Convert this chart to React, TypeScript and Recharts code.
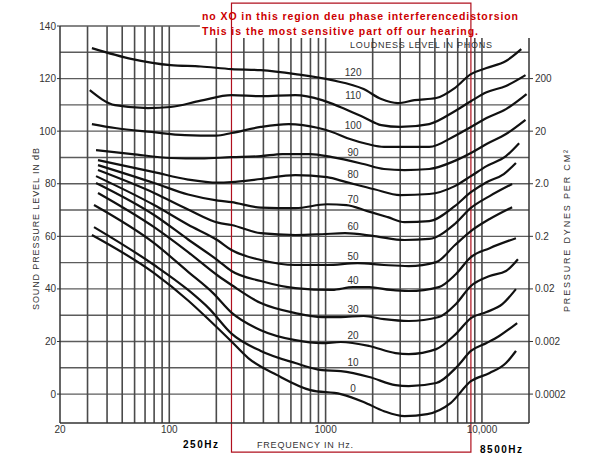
import React from 'react';
import { LineChart, Line, XAxis, YAxis, CartesianGrid, ReferenceArea, ReferenceDot, ReferenceLine } from 'recharts';

type P = [number, number];

// Equal-loudness curves: [frequency Hz, sound pressure level dB]
const phon120: P[] = [[32,131.6],[58,127.4],[102,125.1],[159,124.6],[250,123.6],[385,123.2],[640,121.7],[1100,119.4],[1750,116.0],[2270,112.2],[2900,110.7],[3700,111.8],[5100,112.6],[6700,116.4],[8500,121.7],[10700,124.0],[14250,126.7],[17850,131.2]];
const phon110: P[] = [[31,115.6],[45,109.9],[73,108.8],[102,109.2],[159,111.6],[250,113.7],[385,113.3],[640,113.7],[950,111.8],[1250,109.1],[1750,105.3],[2270,102.3],[3000,101.6],[4600,102.7],[6700,107.6],[8500,111.4],[10700,114.8],[14250,117.2],[19000,121.3]];
const phon100: P[] = [[32,102.7],[45,101.2],[77,99.7],[126,98.5],[200,98.3],[250,99.3],[385,101.6],[580,102.7],[900,101.2],[1100,99.7],[1414,97.1],[1850,95.1],[2364,94.0],[3200,94.0],[4600,94.0],[6700,98.2],[8500,101.6],[10700,105.0],[14250,108.4],[19300,114.1]];
const phon90: P[] = [[34,92.8],[58,91.3],[102,89.8],[159,89.6],[250,90.1],[385,90.5],[530,91.3],[800,91.3],[1100,90.1],[1750,87.5],[2364,85.6],[3200,85.2],[4600,85.6],[6700,88.7],[8500,91.7],[10700,95.1],[14250,98.9],[19000,104.3]];
const phon80: P[] = [[35,89.0],[80,84.4],[132,81.6],[205,80.4],[250,80.6],[385,81.8],[640,83.3],[1020,82.5],[1360,80.6],[2050,77.9],[3000,75.7],[4600,76.1],[6700,79.1],[8500,82.9],[10700,86.7],[14250,90.5],[17300,95.4]];
const phon70: P[] = [[35,87.1],[80,80.3],[132,75.9],[205,73.6],[250,73.0],[385,70.9],[640,70.7],[1020,72.2],[1360,71.9],[1850,69.6],[2500,67.3],[3200,65.4],[4600,65.8],[6700,71.5],[8500,76.8],[10700,80.6],[13800,83.7],[16500,87.9]];
const phon60: P[] = [[35,85.2],[80,76.5],[132,70.2],[205,65.2],[250,64.3],[385,61.2],[640,60.5],[950,60.8],[1330,61.2],[2050,60.1],[3200,58.6],[4600,59.0],[6700,64.7],[8500,70.8],[11200,75.3],[15600,79.9]];
const phon50: P[] = [[34,82.9],[80,71.9],[132,64.4],[205,58.4],[250,54.8],[385,51.0],[640,49.1],[1020,49.1],[1600,49.8],[2364,49.1],[3400,48.7],[5100,50.2],[6700,56.6],[8500,62.0],[11200,66.6],[15600,71.1]];
const phon40: P[] = [[34,80.3],[80,68.1],[132,58.8],[205,50.8],[250,46.8],[385,43.0],[640,40.3],[1100,39.6],[1500,40.7],[1900,40.7],[2600,39.6],[3400,39.2],[5300,40.7],[6800,45.6],[8500,52.1],[11200,55.5],[16500,59.3]];
const phon30: P[] = [[35,76.5],[80,63.5],[132,54.0],[205,45.0],[250,41.5],[385,34.6],[640,30.8],[950,29.3],[1250,29.3],[1750,29.7],[2364,28.5],[3400,27.8],[5300,29.3],[6800,34.2],[8500,41.1],[11200,44.9],[14250,46.8],[17000,51.3]];
const phon20: P[] = [[33,71.9],[80,57.4],[132,46.5],[190,38.5],[250,31.0],[385,24.3],[640,20.5],[950,19.4],[1250,19.8],[1900,18.3],[2800,15.6],[3400,15.2],[5100,17.1],[6800,22.8],[8500,28.9],[10700,31.2],[13500,34.2],[16500,39.9]];
const phon10: P[] = [[33,63.5],[80,49.1],[132,39.6],[180,32.5],[250,23.0],[385,16.4],[640,11.8],[950,9.1],[1250,8.7],[1900,6.5],[2800,3.4],[3400,3.0],[5100,4.2],[7000,10.7],[8500,16.4],[10700,19.4],[12900,22.1],[16800,27.0]];
const phon0: P[] = [[32,60.5],[80,46.0],[132,35.6],[185,27.5],[250,20.0],[320,13.7],[490,7.2],[800,1.5],[1250,0],[1750,-3.0],[2364,-6.5],[3200,-8.4],[4470,-7.6],[6300,-3.4],[8500,4.9],[11200,8.0],[14250,11.8],[16500,16.4]];

const CURVES: P[][] = [phon120, phon110, phon100, phon90, phon80, phon70, phon60, phon50, phon40, phon30, phon20, phon10, phon0];
const PHON_LEVELS = [120, 110, 100, 90, 80, 70, 60, 50, 40, 30, 20, 10, 0];
const PHON_LABEL_FREQ = 1500;
const PHON_LABEL_DB = [122.5, 113.7, 102.3, 92.0, 83.7, 74.2, 63.9, 52.5, 43.4, 32.3, 22.4, 12.2, 2.3];

const X_MIN = 20;
const X_MAX = 20000;
const Y_MIN = -11;
const Y_MAX = 140;
const X_TICKS = [20, 100, 1000, 10000];
const X_GRID = [30, 40, 50, 60, 70, 80, 90, 100, 200, 300, 400, 500, 600, 700, 800, 900, 1000, 2000, 3000, 4000, 5000, 6000, 7000, 8000, 9000, 10000];
const Y_TICKS = [0, 20, 40, 60, 80, 100, 120, 140];
const Y_GRID = [0, 10, 20, 30, 40, 50, 60, 70, 80, 90, 100, 110, 120, 130];
const PRESSURE_TICKS = [0, 20, 40, 60, 80, 100, 120];
const PRESSURE_LABELS = ['0.0002', '0.002', '0.02', '0.2', '2.0', '20', '200'];

// annotation band (Hz) and its vertical extent (dB)
const BAND_HZ = [250, 8500];
const BAND_DB = [-22.1, 148.7];
// the caption pasted at the top blanks the grid above this level, right of this frequency
const CAPTION_HZ = 157;
const CAPTION_DB = 135.4;

const toPts = (c: P[]) => c.map(([f, db]) => ({ f, db }));

const INK = '#333';
const GRID = '#4a4a4a';
const FONT = '"Liberation Sans", Arial, sans-serif';

export default function App() {
  return (
    <div style={{ position: 'relative', width: 600, height: 459, background: '#fff', fontFamily: FONT }}>
      <style>{'body{margin:0}'}</style>
      <LineChart width={600} height={459} margin={{ top: 26, right: 11, bottom: 16, left: 0 }}>
        <CartesianGrid
          yAxisId="l"
          stroke="#5c5c5c"
          strokeWidth={1.4}
          vertical={false}
          horizontalValues={Y_GRID}
        />
        <XAxis
          dataKey="f"
          type="number"
          scale="log"
          domain={[X_MIN, X_MAX]}
          allowDataOverflow
          ticks={X_TICKS}
          tickFormatter={(v: number) => (v === 10000 ? '10,000' : String(v))}
          tickLine={false}
          tickSize={3}
          tickMargin={0}
          height={20}
          axisLine={{ stroke: '#333', strokeWidth: 1.5 }}
          tick={{ fontSize: 10, fill: INK }}
        />
        <YAxis
          yAxisId="l"
          type="number"
          domain={[Y_MIN, Y_MAX]}
          allowDataOverflow
          ticks={Y_TICKS}
          width={60}
          tickSize={3}
          tickMargin={1}
          axisLine={{ stroke: '#333', strokeWidth: 1.5 }}
          tickLine={{ stroke: '#333' }}
          tick={{ fontSize: 10, fill: INK }}
        />
        <YAxis
          yAxisId="r"
          orientation="right"
          type="number"
          domain={[Y_MIN, Y_MAX]}
          allowDataOverflow
          ticks={PRESSURE_TICKS}
          tickFormatter={(v: number) => PRESSURE_LABELS[PRESSURE_TICKS.indexOf(v)] ?? ''}
          width={60}
          tickSize={4}
          tickMargin={2}
          axisLine={false}
          tickLine={{ stroke: '#333' }}
          tick={{ fontSize: 10, fill: INK, textAnchor: 'start' }}
        />
        {X_GRID.map((v) => (
          <ReferenceLine
            key={'g' + v}
            yAxisId="l"
            segment={[{ x: v, y: Y_MIN }, { x: v, y: v > CAPTION_HZ ? CAPTION_DB : Y_MAX }]}
            ifOverflow="visible"
            stroke={GRID}
            strokeWidth={1.6}
          />
        ))}
        <ReferenceLine
          yAxisId="l"
          segment={[{ x: X_MIN, y: Y_MAX }, { x: CAPTION_HZ, y: Y_MAX }]}
          ifOverflow="visible"
          stroke="#5c5c5c"
          strokeWidth={1.4}
        />
        <ReferenceLine
          yAxisId="l"
          segment={[{ x: X_MAX, y: Y_MIN }, { x: X_MAX, y: CAPTION_DB }]}
          ifOverflow="visible"
          stroke="#333"
          strokeWidth={1.5}
        />
        {CURVES.map((c, i) => (
          <Line
            key={PHON_LEVELS[i]}
            yAxisId="l"
            data={toPts(c)}
            dataKey="db"
            type="monotone"
            stroke="#111"
            strokeWidth={2.2}
            dot={false}
            isAnimationActive={false}
          />
        ))}
        {PHON_LEVELS.map((p, i) => (
          <ReferenceDot
            key={'lbl' + p}
            yAxisId="l"
            x={PHON_LABEL_FREQ}
            y={PHON_LABEL_DB[i]}
            r={0}
            fill="none"
            stroke="none"
            label={{ value: String(p), position: 'center', fontSize: 10, fill: INK }}
          />
        ))}
        <ReferenceArea
          yAxisId="l"
          x1={BAND_HZ[0]}
          x2={BAND_HZ[1]}
          y1={BAND_DB[0]}
          y2={BAND_DB[1]}
          ifOverflow="visible"
          fill="none"
          stroke="#b0101e"
          strokeWidth={1.2}
        />
      </LineChart>
      <svg width={600} height={459} style={{ position: 'absolute', left: 0, top: 0, pointerEvents: 'none' }}>
        <text x={202} y={20} fill="#cc0000" fontWeight="bold" fontSize={10.5} textLength={316} lengthAdjust="spacing">
          no XO in this region deu phase interferencedistorsion
        </text>
        <text x={202} y={35} fill="#cc0000" fontWeight="bold" fontSize={10.5} textLength={276} lengthAdjust="spacing">
          This is the most sensitive part off our hearing.
        </text>
        <text x={350} y={48} fill={INK} fontSize={9} textLength={142} lengthAdjust="spacing">
          LOUDNESS LEVEL IN PHONS
        </text>
        <text x={257} y={448} fill={INK} fontSize={9} textLength={96} lengthAdjust="spacing">
          FREQUENCY IN Hz.
        </text>
        <text x={183} y={448} fill="#000" fontWeight="bold" fontSize={10} textLength={35} lengthAdjust="spacing">
          250Hz
        </text>
        <text x={480} y={453} fill="#000" fontWeight="bold" fontSize={10} textLength={42} lengthAdjust="spacing">
          8500Hz
        </text>
        <text transform="translate(39,229) rotate(-90)" textAnchor="middle" fill={INK} fontSize={9} textLength={162} lengthAdjust="spacing">
          SOUND PRESSURE LEVEL IN dB
        </text>
        <text transform="translate(570,231) rotate(-90)" textAnchor="middle" fill={INK} fontSize={9} textLength={162} lengthAdjust="spacing">
          PRESSURE DYNES PER CM²
        </text>
      </svg>
    </div>
  );
}
